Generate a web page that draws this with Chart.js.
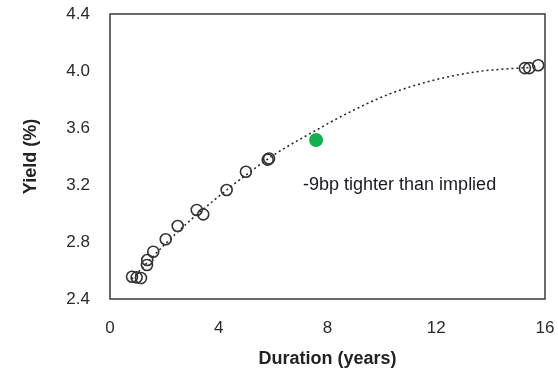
<!DOCTYPE html>
<html>
<head>
<meta charset="utf-8">
<script src="https://cdn.jsdelivr.net/npm/chart.js@4/dist/chart.umd.min.js"></script>
<style>
  html, body { margin: 0; padding: 0; background: #fff; }
  canvas { display: block; }
</style>
</head>
<body>
<canvas id="yield-chart" width="558" height="374"></canvas>
<script>
// bonds on the curve
var bondDuration = [0.81, 0.98, 1.14, 1.36, 1.37, 1.59, 2.05, 2.49, 3.19, 3.43, 4.29, 5.00, 5.80, 5.85, 15.26, 15.42, 15.75];
var bondYield = [2.556, 2.552, 2.547, 2.639, 2.674, 2.732, 2.819, 2.912, 3.025, 2.994, 3.165, 3.293, 3.378, 3.386, 4.02, 4.02, 4.04];

// the highlighted bond
var newDuration = [7.58];
var newYield = [3.516];

// fitted curve
var curveDuration = [0.8, 2.0, 3.0, 4.0, 5.0, 6.1, 7.4, 8.8, 10.3, 11.9, 13.5, 15.0, 15.5];
var curveYield = [2.54, 2.78, 2.96, 3.12, 3.27, 3.42, 3.565, 3.71, 3.84, 3.935, 3.995, 4.02, 4.025];

var xTicks = [0, 4, 8, 12, 16];
var yTicks = [2.4, 2.8, 3.2, 3.6, 4.0, 4.4];
var noteText = '-9bp tighter than implied';

function toPoints(xs, ys) {
    return xs.map(function (x, i) { return { x: x, y: ys[i] }; });
}

var notePlugin = {
    id: 'note',
    afterDatasetsDraw: function (chart) {
        var ctx = chart.ctx;
        var x = chart.scales.x.getPixelForValue(7.1);
        var y = chart.scales.y.getPixelForValue(3.2);
        ctx.save();
        ctx.font = '18px "Liberation Sans", Arial, sans-serif';
        ctx.fillStyle = '#1a1a24';
        ctx.textBaseline = 'middle';
        ctx.fillText(noteText, x, y);
        ctx.restore();
    }
};

var boxPlugin = {
    id: 'box',
    afterDraw: function (chart) {
        var a = chart.chartArea;
        var ctx = chart.ctx;
        ctx.save();
        ctx.strokeStyle = '#3a3a3a';
        ctx.lineWidth = 1.5;
        ctx.strokeRect(a.left, a.top, a.right - a.left, a.bottom - a.top);
        ctx.restore();
    }
};

var tickFont = { family: '"Liberation Sans", Arial, sans-serif', size: 17 };
var titleFont = { family: '"Liberation Sans", Arial, sans-serif', size: 18, weight: 'bold' };

var ctx = document.getElementById('yield-chart').getContext('2d');
var yieldChart = new Chart(ctx, {
    type: 'scatter',
    data: {
        datasets: [{
            label: 'Fitted curve',
            type: 'line',
            data: toPoints(curveDuration, curveYield),
            borderColor: '#222',
            borderWidth: 1.5,
            borderDash: [2, 3],
            pointRadius: 0,
            cubicInterpolationMode: 'monotone',
            fill: false,
            order: 3
        }, {
            label: 'Bonds',
            data: toPoints(bondDuration, bondYield),
            backgroundColor: 'rgba(0,0,0,0)',
            borderColor: '#333',
            borderWidth: 1.6,
            pointRadius: 5.5,
            order: 2
        }, {
            label: 'New issue',
            data: toPoints(newDuration, newYield),
            backgroundColor: '#12b24c',
            borderColor: '#12b24c',
            borderWidth: 0,
            pointRadius: 7,
            order: 1
        }]
    },
    options: {
        responsive: false,
        animation: false,
        layout: { padding: { left: 20, right: 13, top: 14, bottom: 0 } },
        plugins: {
            legend: { display: false },
            tooltip: { enabled: false }
        },
        scales: {
            x: {
                type: 'linear',
                min: 0,
                max: 16,
                afterBuildTicks: function (s) { s.ticks = xTicks.map(function (v) { return { value: v }; }); },
                grid: { display: false, drawTicks: false },
                border: { display: false },
                ticks: { color: '#2a2a2a', font: tickFont, padding: 19, maxRotation: 0 },
                title: { display: true, text: 'Duration (years)', color: '#222', font: titleFont, padding: { top: 6, bottom: 4 } },
                afterFit: function (s) { s.height = 75; s.paddingLeft = 0; s.paddingRight = 0; }
            },
            y: {
                type: 'linear',
                min: 2.4,
                max: 4.4,
                afterBuildTicks: function (s) { s.ticks = yTicks.map(function (v) { return { value: v }; }); },
                grid: { display: false, drawTicks: false },
                border: { display: false },
                ticks: {
                    color: '#2a2a2a',
                    font: tickFont,
                    padding: 20,
                    callback: function (v) { return v.toFixed(1); }
                },
                title: { display: true, text: 'Yield (%)', color: '#222', font: titleFont, padding: { top: 0, bottom: 0 } },
                afterFit: function (s) { s.width = 90; s.paddingTop = 0; s.paddingBottom = 0; }
            }
        }
    },
    plugins: [notePlugin, boxPlugin]
});
</script>
</body>
</html>
